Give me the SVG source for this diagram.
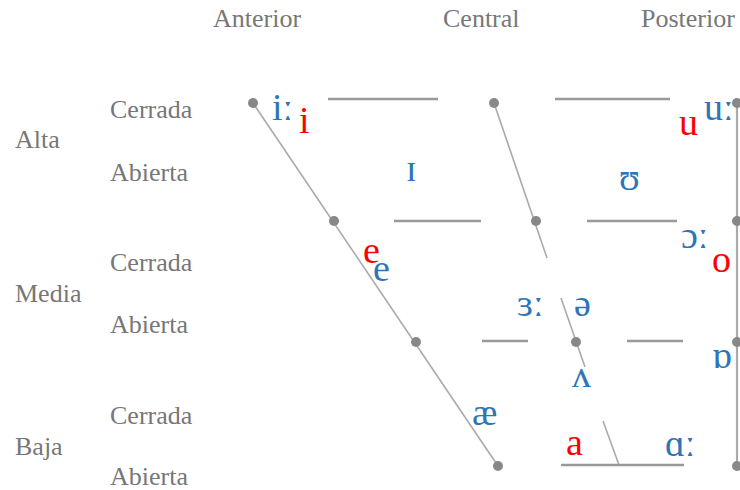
<svg xmlns="http://www.w3.org/2000/svg" width="740" height="490" viewBox="0 0 740 490">
<style>
.lbl{font-family:"Liberation Serif","Times New Roman",serif;font-size:26px;fill:#777}
.ipa{font-family:"Liberation Serif","DejaVu Serif",serif;font-size:38px}
.b{fill:#2E75B6}
.r{fill:#FF0000}
.h{stroke:#999;stroke-width:2.5;fill:none}
.d{stroke:#aaa;stroke-width:1.6;fill:none}
.v{stroke:#aaa;stroke-width:2.2;fill:none}
.dot{fill:#888}
</style>
<rect width="740" height="490" fill="#fff"/>
<g id="headers">
<text class="lbl" x="213" y="27">Anterior</text>
<text class="lbl" x="443" y="27">Central</text>
<text class="lbl" x="641" y="27">Posterior</text>
</g>
<g id="rows">
<text class="lbl" x="15" y="148">Alta</text>
<text class="lbl" x="110" y="118">Cerrada</text>
<text class="lbl" x="110" y="181">Abierta</text>
<text class="lbl" x="15" y="302">Media</text>
<text class="lbl" x="110" y="271">Cerrada</text>
<text class="lbl" x="110" y="333">Abierta</text>
<text class="lbl" x="15" y="455">Baja</text>
<text class="lbl" x="110" y="424">Cerrada</text>
<text class="lbl" x="110" y="485">Abierta</text>
</g>
<g id="connectors">
<line class="d" x1="253" y1="103" x2="498" y2="466"/>
<line class="d" x1="494" y1="103" x2="547" y2="258"/>
<line class="d" x1="561" y1="298" x2="585" y2="367"/>
<line class="d" x1="603" y1="421" x2="619" y2="465"/>
<line class="v" x1="737" y1="103" x2="737" y2="466"/>
<line class="h" x1="328" y1="99" x2="438" y2="99"/>
<line class="h" x1="555" y1="99" x2="670" y2="99"/>
<line class="h" x1="394" y1="221" x2="481" y2="221"/>
<line class="h" x1="587" y1="221" x2="677" y2="221"/>
<line class="h" x1="482" y1="341" x2="528" y2="341"/>
<line class="h" x1="627" y1="341" x2="683" y2="341"/>
<line class="h" x1="561" y1="465" x2="684" y2="465"/>
</g>
<g id="dots">
<circle id="n-front-close" class="dot" cx="253" cy="103" r="5"/>
<circle id="n-central-close" class="dot" cx="494" cy="103" r="5"/>
<circle id="n-back-close" class="dot" cx="737" cy="103" r="5"/>
<circle id="n-front-closemid" class="dot" cx="334" cy="221" r="5"/>
<circle id="n-central-closemid" class="dot" cx="536" cy="221" r="5"/>
<circle id="n-back-closemid" class="dot" cx="737" cy="221" r="5"/>
<circle id="n-front-openmid" class="dot" cx="416" cy="342" r="5"/>
<circle id="n-central-openmid" class="dot" cx="576" cy="342" r="5"/>
<circle id="n-back-openmid" class="dot" cx="737" cy="342" r="5"/>
<circle id="n-front-open" class="dot" cx="498" cy="466" r="5"/>
<circle id="n-back-open" class="dot" cx="737" cy="466" r="5"/>
</g>
<g id="vowels">
<text class="ipa b" x="272" y="120">iː</text>
<text class="ipa r" x="299" y="133">i</text>
<text class="ipa b" x="406" y="181">ɪ</text>
<text class="ipa b" x="619" y="190">ʊ</text>
<text class="ipa r" x="679" y="135">u</text>
<text class="ipa b" x="704" y="120">uː</text>
<text class="ipa r" x="363" y="263">e</text>
<text class="ipa b" x="373" y="281">e</text>
<text class="ipa b" x="681" y="248">ɔː</text>
<text class="ipa r" x="712" y="272">o</text>
<text class="ipa b" x="517" y="316">ɜː</text>
<text class="ipa b" x="574" y="316">ə</text>
<text class="ipa b" x="712" y="368">ɒ</text>
<text class="ipa b" x="572" y="387">ʌ</text>
<text class="ipa b" x="472" y="425">æ</text>
<text class="ipa r" x="566" y="455">a</text>
<text class="ipa b" x="665" y="456">ɑː</text>
</g>
</svg>
